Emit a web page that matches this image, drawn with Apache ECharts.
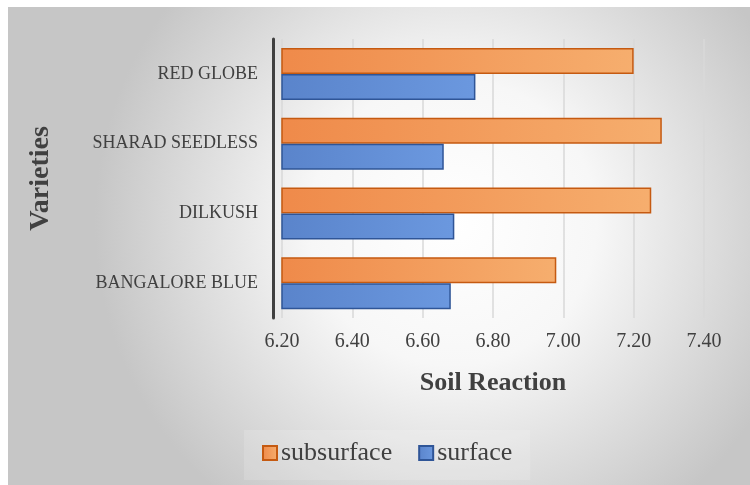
<!DOCTYPE html>
<html>
<head>
<meta charset="utf-8">
<script src="https://cdn.jsdelivr.net/npm/echarts@6/dist/echarts.min.js"></script>
<style>html,body{margin:0;padding:0;background:#fff;}#c{width:750px;height:485px;}</style>
</head>
<body>
<div id="c"></div>
<script>
var categories = ['BANGALORE BLUE', 'DILKUSH', 'SHARAD SEEDLESS', 'RED GLOBE'];
var subsurface = [6.98, 7.25, 7.28, 7.20];
var surface = [6.68, 6.69, 6.66, 6.75];
var xTicks = { min: 6.2, max: 7.4, interval: 0.2 };

var chart = echarts.init(document.getElementById('c'), null, { renderer: 'canvas' });
var font = '"Liberation Serif", "Times New Roman", serif';
var orange = new echarts.graphic.LinearGradient(0, 0, 1, 0, [
  { offset: 0, color: '#ef8a4a' }, { offset: 1, color: '#f6ae6e' }]);
var blue = new echarts.graphic.LinearGradient(0, 0, 1, 0, [
  { offset: 0, color: '#5a84cb' }, { offset: 1, color: '#6b98df' }]);

chart.setOption({
  animation: false,
  textStyle: { fontFamily: font },
  graphic: [{
    type: 'rect', z: -100, silent: true,
    shape: { x: 8, y: 7, width: 742, height: 478 },
    style: {
      fill: new echarts.graphic.RadialGradient(0.6, 0.45, 0.75, [
        { offset: 0, color: '#ffffff' }, { offset: 0.4, color: '#f7f7f7' }, { offset: 1, color: '#c6c6c6' }])
    }
  }],
  grid: { left: 282, right: 46, top: 39, bottom: 167 },
  legend: {
    data: ['subsurface', 'surface'],
    left: 244, top: 430,
    padding: [10, 18, 14, 18],
    backgroundColor: 'rgba(255,255,255,0.15)',
    itemWidth: 14, itemHeight: 14, itemGap: 26,
    icon: 'rect',
    textStyle: { fontFamily: font, fontSize: 26, color: '#404040', padding: [0, 0, 0, -1] }
  },
  xAxis: {
    type: 'value', min: xTicks.min, max: xTicks.max, interval: xTicks.interval,
    name: 'Soil Reaction', nameLocation: 'middle', nameGap: 52,
    nameTextStyle: { fontFamily: font, fontSize: 26, fontWeight: 'bold', color: '#404040' },
    axisLine: { show: false }, axisTick: { show: false },
    axisLabel: { fontFamily: font, fontSize: 20, color: '#404040', margin: 14,
      formatter: function (v) { return v.toFixed(2); } },
    splitLine: { show: true, lineStyle: { color: '#d9d9d9', width: 1.5 } }
  },
  yAxis: {
    type: 'category', data: categories, offset: 9,
    name: 'Varieties', nameLocation: 'middle', nameGap: 218,
    nameTextStyle: { fontFamily: font, fontSize: 28, fontWeight: 'bold', color: '#404040' },
    axisLine: { show: true, lineStyle: { color: '#404040', width: 3 } },
    axisTick: { show: false },
    axisLabel: { fontFamily: font, fontSize: 18, color: '#404040', margin: 15 }
  },
  series: [
    { name: 'subsurface', type: 'bar', data: subsurface, barWidth: 26, barGap: '0%',
      itemStyle: { color: orange, borderColor: '#c55a11', borderWidth: 1.5 } },
    { name: 'surface', type: 'bar', data: surface, barWidth: 26, barGap: '0%',
      itemStyle: { color: blue, borderColor: '#2f5597', borderWidth: 1.5 } }
  ]
});
</script>
</body>
</html>
